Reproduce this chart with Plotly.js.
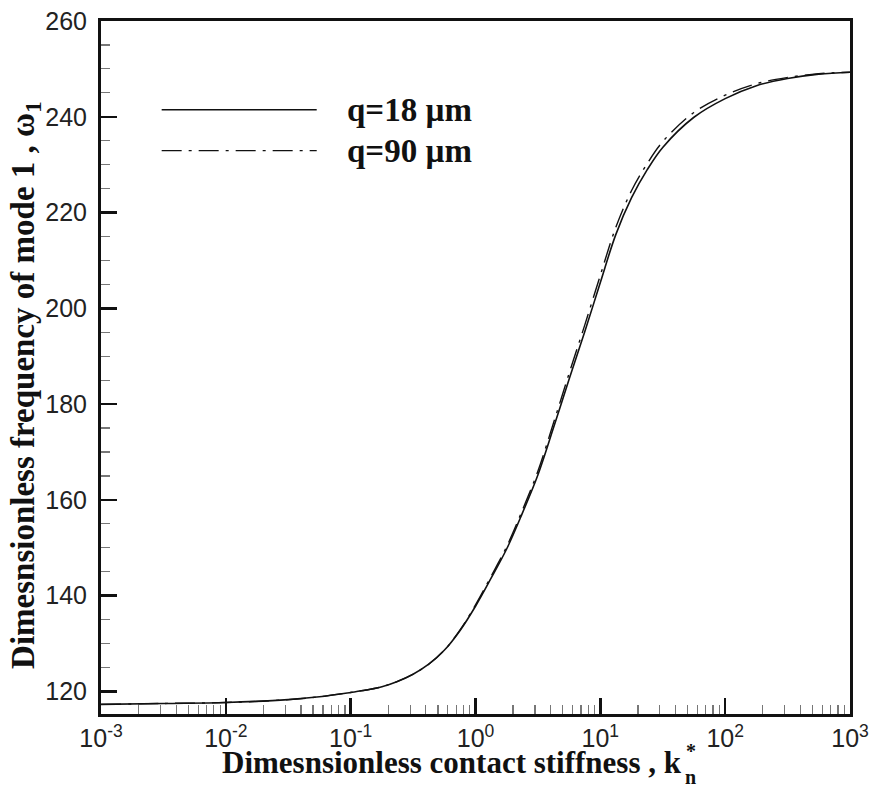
<!DOCTYPE html>
<html>
<head>
<meta charset="utf-8">
<script src="https://cdn.plot.ly/plotly-3.0.1.min.js"></script>
<style>html,body{margin:0;padding:0;background:#fff}#chart{width:872px;height:787px}</style>
</head>
<body>
<div id="chart"></div>
<script>
// Data
const kn = [0.001, 0.00316, 0.01, 0.0316, 0.0562, 0.1, 0.133, 0.178, 0.237, 0.316, 0.422, 0.562, 0.750, 1, 1.33, 1.78, 2.37, 3.16, 4.22, 5.62, 7.50, 10, 13.3, 17.8, 23.7, 31.6, 56.2, 100, 178, 316, 562, 1000];
const omega_q18 = [117.3, 117.5, 117.7, 118.3, 118.9, 119.8, 120.3, 121.0, 122.1, 123.6, 125.7, 128.6, 132.7, 137.8, 143.6, 149.8, 157.2, 165.2, 175.1, 185.2, 195.1, 205.4, 215.4, 223.1, 228.9, 233.6, 239.9, 243.8, 246.5, 248.0, 248.9, 249.3];
const omega_q90 = [117.3, 117.5, 117.7, 118.3, 118.9, 119.8, 120.3, 121.0, 122.1, 123.6, 125.7, 128.6, 132.8, 138.1, 144.0, 150.3, 157.8, 166.0, 176.1, 186.4, 196.5, 206.9, 216.9, 224.6, 230.2, 234.8, 240.9, 244.5, 246.9, 248.2, 249.0, 249.3];
const seriesNames = ['q=18 µm', 'q=90 µm'];
const xTickVals = [0.001, 0.01, 0.1, 1, 10, 100, 1000];
const xTickText = ['10<sup>-3</sup>', '10<sup>-2</sup>', '10<sup>-1</sup>', '10<sup>0</sup>', '10<sup>1</sup>', '10<sup>2</sup>', '10<sup>3</sup>'];
const yTickVals = [120, 140, 160, 180, 200, 220, 240, 260];
const xTitle = '<b>Dimesnsionless contact stiffness , k</b>';
const xTitleSub = '<b>n</b>';
const xTitleStar = '<b>*</b>';
const yTitle = '<b>Dimesnsionless frequency of mode 1 , ω<sub>1</sub></b>';

const lineColor = '#111';
const dashDot = '20px,7px,3px,7px';

const traces = [
  {x: kn, y: omega_q18, type: 'scatter', mode: 'lines', name: seriesNames[0],
   line: {color: lineColor, width: 1.6, shape: 'spline', smoothing: 1}},
  {x: kn, y: omega_q90, type: 'scatter', mode: 'lines', name: seriesNames[1],
   line: {color: lineColor, width: 1.4, shape: 'spline', smoothing: 1, dash: dashDot}}
];

const serif = 'Liberation Serif, Times New Roman, serif';
const sans = 'Liberation Sans, Arial, sans-serif';

const layout = {
  width: 872, height: 787,
  margin: {l: 101, r: 22, t: 21, b: 73},
  paper_bgcolor: '#fff', plot_bgcolor: '#fff',
  showlegend: false,
  xaxis: {
    type: 'log', range: [-3, 3],
    tickvals: xTickVals, ticktext: xTickText,
    ticks: 'inside', ticklen: 16, tickwidth: 2.5, tickcolor: '#111',
    minor: {ticks: 'inside', ticklen: 9, tickwidth: 1.2, tickcolor: '#777', dtick: 'D1', showgrid: false},
    showline: true, linecolor: '#111', linewidth: 3, mirror: true,
    showgrid: false, zeroline: false,
    tickfont: {family: sans, size: 25, color: '#222'}
  },
  yaxis: {
    range: [115.3, 260],
    tickvals: yTickVals,
    ticks: 'inside', ticklen: 16, tickwidth: 2.5, tickcolor: '#111',
    minor: {ticks: 'inside', ticklen: 9, tickwidth: 1.2, tickcolor: '#777', dtick: 5, showgrid: false},
    showline: true, linecolor: '#111', linewidth: 3, mirror: true,
    showgrid: false, zeroline: false,
    tickfont: {family: sans, size: 25, color: '#222'},
    ticklabelstandoff: 6
  },
  shapes: [
    {type: 'line', xref: 'paper', yref: 'paper', x0: 0.081, x1: 0.288, y0: 0.872, y1: 0.872,
     line: {color: lineColor, width: 1.6}},
    {type: 'line', xref: 'paper', yref: 'paper', x0: 0.081, x1: 0.288, y0: 0.813, y1: 0.813,
     line: {color: lineColor, width: 1.4, dash: dashDot}}
  ],
  annotations: [
    {xref: 'paper', yref: 'paper', x: 0.7784, y: -0.0707, xanchor: 'right', yanchor: 'middle', showarrow: false,
     text: xTitle, font: {family: serif, size: 31, color: '#111'}},
    {xref: 'paper', yref: 'paper', x: 0.7877, y: -0.0909, xanchor: 'center', yanchor: 'middle', showarrow: false,
     text: xTitleSub, font: {family: serif, size: 20, color: '#111'}},
    {xref: 'paper', yref: 'paper', x: 0.7877, y: -0.0534, xanchor: 'center', yanchor: 'middle', showarrow: false,
     text: xTitleStar, font: {family: serif, size: 20, color: '#111'}},
    {xref: 'paper', yref: 'paper', x: -0.1, y: 0.475, xanchor: 'center', yanchor: 'middle', showarrow: false,
     textangle: -90, text: yTitle, font: {family: serif, size: 33, color: '#111'}},
    {xref: 'paper', yref: 'paper', x: 0.326, y: 0.872, xanchor: 'left', yanchor: 'middle', showarrow: false,
     text: '<b>' + seriesNames[0] + '</b>', font: {family: serif, size: 33, color: '#111'}},
    {xref: 'paper', yref: 'paper', x: 0.326, y: 0.813, xanchor: 'left', yanchor: 'middle', showarrow: false,
     text: '<b>' + seriesNames[1] + '</b>', font: {family: serif, size: 33, color: '#111'}}
  ]
};

Plotly.newPlot('chart', traces, layout, {displayModeBar: false, staticPlot: true});
</script>
</body>
</html>
